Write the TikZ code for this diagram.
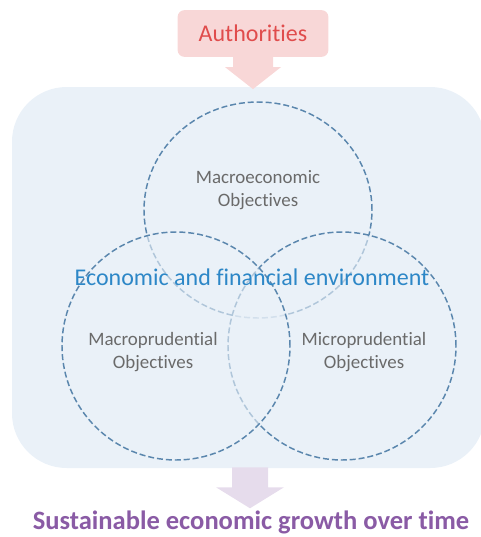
\documentclass[tikz,border=0pt]{standalone}
\usepackage{fontspec}
\setmainfont{Carlito}[Ligatures=NoCommon, RawFeature={-calt}]
\usetikzlibrary{shapes.geometric, calc, positioning}
\definecolor{envbg}{HTML}{EAF1F8}
\definecolor{ringblue}{HTML}{5A86AD}
\definecolor{objgray}{HTML}{6A6A6A}
\definecolor{envblue}{HTML}{2D87C7}
\definecolor{authpink}{HTML}{F8D7D7}
\definecolor{authred}{HTML}{E04C4C}
\definecolor{growthlilac}{HTML}{E6DCEC}
\definecolor{growthpurple}{HTML}{8A5BA5}

\begin{document}
\begin{tikzpicture}[x=0.75pt, y=-0.75pt,
  envbox/.style={rectangle, rounded corners=41pt, fill=envbg,
    minimum width=354.75pt, minimum height=285.75pt},
  objring/.style={draw=ringblue, line width=1.1pt, dash pattern=on 4.5pt off 2.2pt,
    fill=envbg, fill opacity=0.6, inner sep=0pt},
  objtext/.style={text=objgray, font=\fontsize{14.2}{17}\selectfont, align=center},
  authbox/.style={rectangle, rounded corners=5pt, fill=authpink, text=authred,
    minimum width=113pt, minimum height=35pt, font=\fontsize{18}{21}\selectfont}]
  \useasboundingbox (0,0) rectangle (481,537);

  \node[envbox] (env) at (248.5,277.5) {};

  % three objectives, drawn so that the later ones veil the earlier lines
  \node[objring, ellipse, minimum width=171pt, minimum height=162pt] (macroeco) at (258,210) {};
  \node[objring, circle, minimum size=171pt] (micro) at (342,346) {};
  \node[objring, circle, minimum size=171pt] (macropru) at (176,346) {};

  \node[objtext] (macroecotext) at ($(macroeco.center)+(0,-20)$) {Macroeconomic\\Objectives};
  \node[objtext] (macroprutext) at ($(macropru.center)+(-23,6)$) {Macroprudential\\Objectives};
  \node[objtext] (microtext) at ($(micro.center)+(22,6)$) {Microprudential\\Objectives};

  \node[text=envblue, font=\fontsize{18}{21}\selectfont] (envlabel) at (252,277) {Economic and financial environment};

  \node[authbox] (auth) at (253,33.5) {Authorities};
  \fill[authpink] ($(auth.south)+(-20,-1)$) -- ++(0,11) -- ++(-8,0) -- ($(auth.south)+(0,32)$)
    -- ++(28,-22) -- ++(-8,0) -- ++(0,-11) -- cycle;

  \fill[growthlilac] ($(env.south)+(-16.5,-1)$) -- ++(0,20) -- ++(-16,0) -- ($(env.south)+(1.5,40)$)
    -- ++(34,-21) -- ++(-16,0) -- ++(0,-20) -- cycle;
  \node[text=growthpurple, font=\fontsize{19.9}{23}\selectfont\bfseries] (growth) at (251,522) {Sustainable economic growth over time};
\end{tikzpicture}
\end{document}
